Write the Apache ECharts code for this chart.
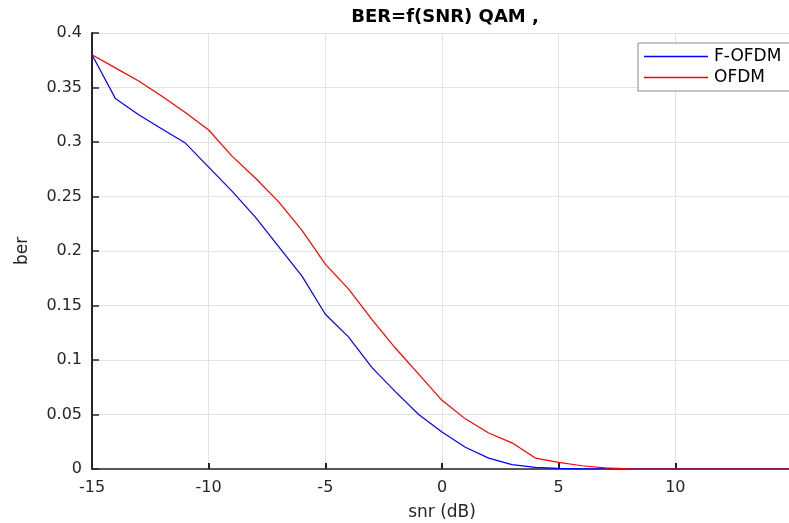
<!DOCTYPE html>
<html>
<head>
<meta charset="utf-8">
<script src="https://cdn.jsdelivr.net/npm/echarts@6/dist/echarts.min.js"></script>
<style>
html,body{margin:0;padding:0;background:#fff;}
#c{width:789px;height:523px;}
</style>
</head>
<body>
<div id="c"></div>
<script>
const snr = [-15,-14,-13,-12,-11,-10,-9,-8,-7,-6,-5,-4,-3,-2,-1,0,1,2,3,4,5,6,7,8,9,10,11,12,13,14,15];
const berFOFDM = [0.380,0.340,0.325,0.312,0.299,0.277,0.255,0.231,0.204,0.177,0.142,0.121,0.093,0.071,0.050,0.034,0.020,0.010,0.004,0.0015,0.0006,0.0002,0.0001,0,0,0,0,0,0,0,0];
const berOFDM = [0.380,0.368,0.356,0.342,0.327,0.311,0.287,0.267,0.245,0.219,0.188,0.165,0.137,0.111,0.087,0.063,0.046,0.033,0.024,0.010,0.006,0.003,0.001,0.0002,0,0,0,0,0,0,0];
const seriesNames = ['F-OFDM','OFDM'];
const titleText = 'BER=f(SNR) QAM ,';
const xName = 'snr (dB)';
const yName = 'ber';

const txt = '#262626';
const font = 'DejaVu Sans';
const chart = echarts.init(document.getElementById('c'), null, {renderer:'canvas'});
chart.setOption({
  animation:false,
  backgroundColor:'#fff',
  title:{text:titleText,left:440,top:3,textAlign:'center',
    textStyle:{fontFamily:font,fontWeight:'bold',fontSize:18,color:'#000'}},
  legend:{
    data:seriesNames,orient:'vertical',left:638,top:43,
    padding:[5,14,5,6],itemGap:4,itemWidth:64,itemHeight:1.5,icon:'rect',
    backgroundColor:'#fff',borderColor:'#8a8a8a',borderWidth:1,
    textStyle:{fontFamily:font,fontSize:17,color:'#000',padding:[0,0,0,1]}
  },
  grid:{left:92,top:33,width:700,height:436,containLabel:false,outerBoundsMode:'none'},
  xAxis:{
    type:'value',min:-15,max:15,interval:5,
    name:xName,nameLocation:'middle',nameGap:35,
    nameTextStyle:{fontFamily:font,fontSize:17,color:txt},
    axisLine:{show:true,onZero:false,lineStyle:{color:txt,width:1.5}},
    axisTick:{show:true,inside:true,length:6,lineStyle:{color:txt,width:2}},
    axisLabel:{fontFamily:font,fontSize:16,color:txt,margin:11,showMaxLabel:false},
    splitLine:{show:true,lineStyle:{color:'#e3e3e3',width:1}}
  },
  yAxis:{
    type:'value',min:0,max:0.4,interval:0.05,
    name:yName,nameLocation:'middle',nameGap:61,
    nameTextStyle:{fontFamily:font,fontSize:17,color:txt},
    axisLine:{show:true,onZero:false,lineStyle:{color:txt,width:2}},
    axisTick:{show:true,inside:true,length:7,lineStyle:{color:txt,width:1.5}},
    axisLabel:{fontFamily:font,fontSize:16,color:txt,margin:10},
    splitLine:{show:true,lineStyle:{color:'#e3e3e3',width:1}}
  },
  series:[
    {name:seriesNames[0],type:'line',data:snr.map((x,i)=>[x,berFOFDM[i]]),
      showSymbol:false,symbol:'none',lineStyle:{color:'#0000ff',width:1.2},itemStyle:{color:'#0000ff'}},
    {name:seriesNames[1],type:'line',data:snr.map((x,i)=>[x,berOFDM[i]]),
      showSymbol:false,symbol:'none',lineStyle:{color:'#ff0000',width:1.2},itemStyle:{color:'#ff0000'}}
  ]
});
</script>
</body>
</html>
